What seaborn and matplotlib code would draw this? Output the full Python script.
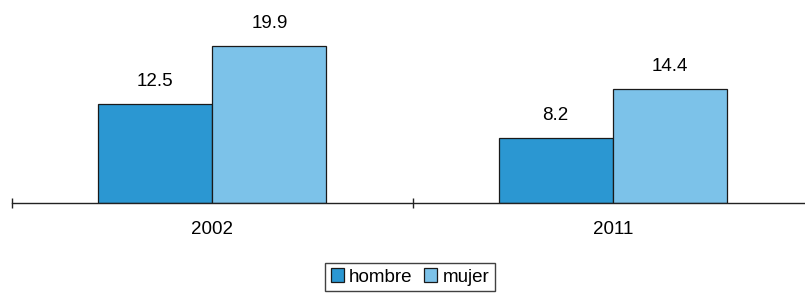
import matplotlib
matplotlib.use("Agg")
import matplotlib.pyplot as plt
import seaborn as sns
import pandas as pd

years = ["2002", "2011"]
series = ["hombre", "mujer"]
hombre = [12.5, 8.2]
mujer = [19.9, 14.4]
colors = ["#2b97d2", "#7cc2e9"]

df = pd.DataFrame({
    "year": years * 2,
    "sex": [series[0]] * 2 + [series[1]] * 2,
    "value": hombre + mujer,
})

sns.set_style("white")
plt.rcParams["font.family"] = ["Liberation Sans", "DejaVu Sans"]
plt.rcParams["text.color"] = "black"
plt.rcParams["xtick.color"] = "black"

fig = plt.figure(figsize=(8.05, 2.98), dpi=100)
ax = fig.add_axes([12 / 805, 95 / 298, 801 / 805, 0.5826])
sns.barplot(data=df, x="year", y="value", hue="sex", order=years, hue_order=series,
            palette=colors, width=0.57, gap=0, edgecolor="#1a1a1a", linewidth=0.9,
            saturation=1, ax=ax, legend=True)
ax.set_xlim(-0.5, 1.5)
ax.set_ylim(0, 22)
ax.set_xlabel("")
ax.set_ylabel("")
ax.set_yticks([])
for s in ["top", "right", "left"]:
    ax.spines[s].set_visible(False)
ax.spines["bottom"].set_color("#222222")
ax.spines["bottom"].set_linewidth(1.0)
ax.set_xticks([0, 1])
ax.set_xticklabels(years, fontsize=13.5, color="black")
ax.tick_params(axis="x", which="major", length=0, pad=13, bottom=True)
ax.set_xticks([-0.5, 0.5, 1.5], minor=True)
ax.tick_params(axis="x", which="minor", length=7, direction="inout", width=1.0,
               color="#222222", bottom=True)

for cont in ax.containers:
    ax.bar_label(cont, fmt="%.1f", padding=10, fontsize=13.5, color="black")

handles, labels = ax.get_legend_handles_labels()
ax.legend_.remove()
leg = fig.legend(handles, labels, loc="center", bbox_to_anchor=(410 / 805, 1 - 277 / 298),
                 ncol=2, frameon=True, fancybox=False, edgecolor="#111111", fontsize=13.5,
                 handlelength=0.7, handleheight=0.7, handletextpad=0.3, columnspacing=0.6,
                 borderpad=0.3, borderaxespad=0)
leg.get_frame().set_linewidth(1.0)
for t in leg.get_texts():
    t.set_color("black")

fig.savefig("out.png", dpi=100)
